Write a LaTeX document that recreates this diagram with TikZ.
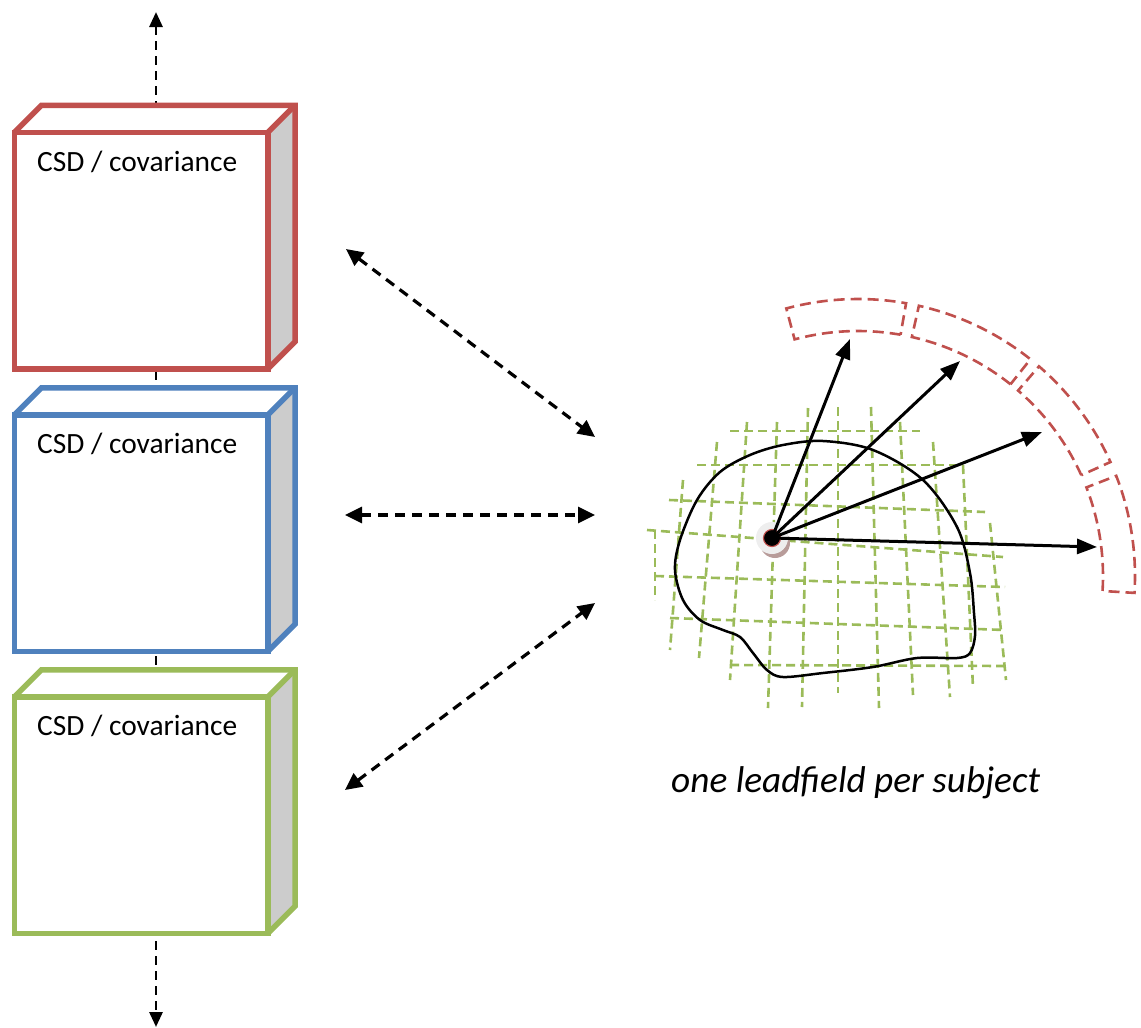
\documentclass[tikz,border=0pt]{standalone}
\usepackage{fontspec}
\setmainfont{Carlito}
\usetikzlibrary{arrows.meta,calc}

\definecolor{boxred}{HTML}{C0504D}
\definecolor{boxblue}{HTML}{4F81BD}
\definecolor{boxgreen}{HTML}{9BBB59}
\definecolor{sidegray}{HTML}{CCCCCC}
\definecolor{halo}{HTML}{EEEEEE}
\definecolor{haloshadow}{HTML}{B89C9A}

\tikzset{
  cube/.style={fill=white, rectangle,
    minimum width=253.5pt, minimum height=236.5pt, inner sep=0pt,
    outer sep=0pt},
  cubeface/.style={draw=#1, line width=5.5pt, line join=miter},
  cubelabel/.style={anchor=base west, font=\fontsize{29.4}{34}\selectfont,
    inner sep=0pt},
  caption/.style={anchor=base west, font=\fontsize{37.3}{42}\selectfont\itshape,
    inner sep=0pt},
  link/.style={line width=3.2pt, dash pattern=on 10pt off 7pt,
    {Triangle[length=17pt,width=16pt]}-{Triangle[length=17pt,width=16pt]}},
  stack/.style={line width=2.8pt, dash pattern=on 9pt off 6pt,
    {Triangle[length=15pt,width=13pt]}-{Triangle[length=15pt,width=13pt]}},
  ray/.style={line width=3pt, -{Triangle[length=20pt,width=15pt]}},
  gridline/.style={draw=boxgreen, line width=2.6pt, dash pattern=on 9pt off 5pt},
  sensor/.style={draw=boxred, line width=2.6pt, dash pattern=on 11pt off 6pt},
}

% cuboid: name, centre of the front face, colour
\newcommand{\drawcube}[3]{%
  \node[cube] (#1) at (#2) {};
  \fill[white] (#1.north west) -- ++(27,-27)
    -- ($(#1.north east)+(27,-27)$) -- (#1.north east) -- cycle;
  \fill[sidegray] (#1.north east) -- ++(27,-27)
    -- ($(#1.south east)+(27,-27)$) -- (#1.south east) -- cycle;
  % front face, silhouette of top and side faces, and the inner edge
  \draw[cubeface=#3] (#1.north west) rectangle (#1.south east);
  \draw[cubeface=#3] (#1.north west) -- ++(27,-27)
    -- ($(#1.north east)+(27,-27)$) -- ($(#1.south east)+(27,-27)$)
    -- (#1.south east);
  \draw[cubeface=#3] (#1.north east) -- ++(27,-27);
  \node[cubelabel] (#1-label) at ($(#1.north west)+(22.5,39)$) {CSD / covariance};
}

% one sensor: annular sector around the array centre, visual angles a..b
\newcommand{\sensorpatch}[2]{%
  \draw[sensor] plot[domain=#1:#2, samples=30]
      ({858+245*cos(\x)}, {576-245*sin(\x)})
    -- plot[domain=#2:#1, samples=30]
      ({858+277*cos(\x)}, {576-277*sin(\x)}) -- cycle;
}

\begin{document}
\begin{tikzpicture}[x=1pt, y=-1pt]
  \useasboundingbox (0,0) rectangle (1141,1028);

  % stack of covariance matrices with the dashed axis behind them
  \coordinate (vtop) at (156,12);
  \coordinate (vbot) at (156,1027);
  \draw[stack] (vtop) -- (vbot);

  \drawcube{red}{141.25,250.5}{boxred}
  \drawcube{blue}{141.25,533}{boxblue}
  \drawcube{green}{141.25,815}{boxgreen}

  % links between the covariance stack and the leadfield
  \coordinate (l1a) at (346,249);  \coordinate (l1b) at (595,437);
  \coordinate (l2a) at (345,515);  \coordinate (l2b) at (595,515);
  \coordinate (l3a) at (345,790);  \coordinate (l3b) at (595,603);
  \draw[link] (l1a) -- (l1b);
  \draw[link] (l2a) -- (l2b);
  \draw[link] (l3a) -- (l3b);

  % source grid
  \foreach \ax/\ay/\bx/\by in {
      730/431/920/431, 697/465/960/465, 669/500/985/512,
      647/530/1003/557, 655/576/1005/587, 670/618/1005/630,
      730/665/1005/666,
      683/480/670/650, 717/442/699/658, 747/422/730/680,
      777/422/768/708, 808/408/802/707, 838/407/838/693,
      871/407/879/708, 900/422/913/695, 933/442/950/697,
      963/465/973/688, 990/523/1006/680, 655/530/655/600}
    \draw[gridline] (\ax,\ay) -- (\bx,\by);

  % head outline
  \draw[line width=2.5pt] plot[smooth cycle, tension=0.55] coordinates {
      (823,441) (873,450) (923,480) (957,527) (970,573) (974,613)
      (975,636) (970,653) (957,658) (917,658) (873,667) (823,673)
      (783,677) (767,670) (753,653) (740,637) (723,630) (700,620)
      (683,600) (675,570) (680,540) (697,500) (720,472) (750,455)
      (783,445)};

  % sensor array
  \sensorpatch{80}{105}
  \sensorpatch{51.5}{77.3}
  \sensorpatch{24.3}{49.2}
  \sensorpatch{-3.5}{21.2}

  % source position
  \fill[haloshadow] (775,543) circle[radius=15];
  \fill[halo] (772,538) circle[radius=16];
  \node[circle, fill=black, draw=boxred, line width=1.2pt,
    minimum size=17pt, inner sep=0pt] (src) at (772,538) {};

  % leadfield rays towards the sensors
  \coordinate (t1) at (850,339);
  \coordinate (t2) at (960,361);
  \coordinate (t3) at (1042,432);
  \coordinate (t4) at (1097,547);
  \foreach \t in {t1,t2,t3,t4}
    \draw[ray] (src.center) -- (\t);
  \fill[black] (src) circle[radius=7.5];

  \node[caption] (cap) at (671,792.5) {one leadfield per subject};
\end{tikzpicture}
\end{document}
